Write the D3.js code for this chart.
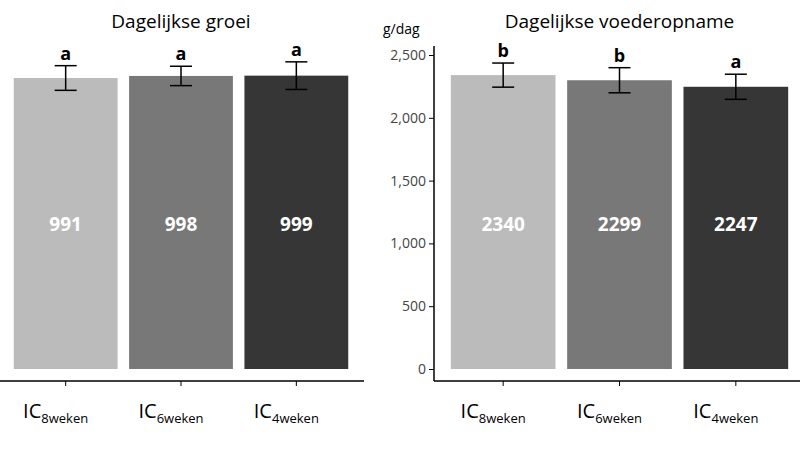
<!DOCTYPE html>
<html><head><meta charset="utf-8">
<script src="https://cdn.jsdelivr.net/npm/d3@7"></script>
<style>body{margin:0;background:#fff}text{font-family:"Open Sans",Lato,sans-serif}</style>
</head><body><svg id="chart" width="800" height="450"></svg>
<script>
const groups = ["8weken", "6weken", "4weken"]
const colors = ["#bbbbbb", "#787878", "#363636"]
const groeiValues = [991, 998, 999]
const groeiErr = [42, 33, 47]
const groeiLetters = ["a", "a", "a"]
const voerValues = [2340, 2299, 2247]
const voerErr = [96, 100, 100]
const voerLetters = ["b", "b", "a"]
const voerTicks = [0, 500, 1000, 1500, 2000, 2500]

const svg = d3.select("#chart")
const baseY = 369, topY = 55

function panel(opts) {
  const g = svg.append("g")
  const x = d3.scaleBand().domain(groups).range(opts.xr).paddingInner(0.1).paddingOuter(0.05)
  const y = d3.scaleLinear().domain([0, opts.max]).range([baseY, topY])
  // axis line
  g.append("line").attr("x1", opts.axisX).attr("x2", opts.xr[1] + 10)
    .attr("y1", 381).attr("y2", 381).attr("stroke", "#000").attr("stroke-width", 1.5)
  groups.forEach((k, i) => {
    const v = opts.values[i], e = opts.err[i], cx = x(k) + x.bandwidth() / 2
    g.append("rect").attr("x", x(k)).attr("width", x.bandwidth())
      .attr("y", y(v)).attr("height", baseY - y(v)).attr("fill", colors[i])
    g.append("line").attr("x1", cx).attr("x2", cx).attr("y1", y(v - e)).attr("y2", y(v + e)).attr("stroke", "#000").attr("stroke-width", 1.5)
    ;[v - e, v + e].forEach(w => g.append("line").attr("x1", cx - 11).attr("x2", cx + 11)
      .attr("y1", y(w)).attr("y2", y(w)).attr("stroke", "#000").attr("stroke-width", 1.5))
    g.append("text").attr("x", cx).attr("y", y(v + e) - 6).attr("text-anchor", "middle")
      .attr("font-size", 18).attr("font-weight", "bold").text(opts.letters[i])
    g.append("text").attr("x", cx).attr("y", 231).attr("text-anchor", "middle")
      .attr("font-size", 19).attr("font-weight", "bold").attr("fill", "#fff").text(v)
    g.append("line").attr("x1", cx).attr("x2", cx).attr("y1", 381).attr("y2", 386).attr("stroke", "#000")
    const t = g.append("text").attr("x", cx - 10).attr("y", 418).attr("text-anchor", "middle").attr("font-size", 20)
    t.append("tspan").text("IC")
    t.append("tspan").attr("font-size", 13).attr("dy", 5).text(k)
  })
  g.append("text").attr("x", (opts.xr[0] + opts.xr[1]) / 2).attr("y", 28).attr("text-anchor", "middle")
    .attr("font-size", 19).text(opts.title)
  return y
}

panel({ xr: [8, 354], max: 991 * (baseY - topY) / (baseY - 78), values: groeiValues, err: groeiErr,
  letters: groeiLetters, title: "Dagelijkse groei", axisX: 0 })
const y2 = panel({ xr: [445, 794], max: 2500, values: voerValues, err: voerErr,
  letters: voerLetters, title: "Dagelijkse voederopname", axisX: 434 })

const ax = svg.append("g").attr("transform", "translate(434,0)")
  .call(d3.axisLeft(y2).tickValues(voerTicks).tickSize(5).tickSizeOuter(0))
ax.select(".domain").attr("stroke-width", 1.5).attr("d", "M0,46V381")
ax.selectAll("text").attr("font-size", 14).attr("fill", "#444")
svg.append("text").attr("x", 383).attr("y", 34).attr("font-size", 14).text("g/dag")
</script></body></html>
